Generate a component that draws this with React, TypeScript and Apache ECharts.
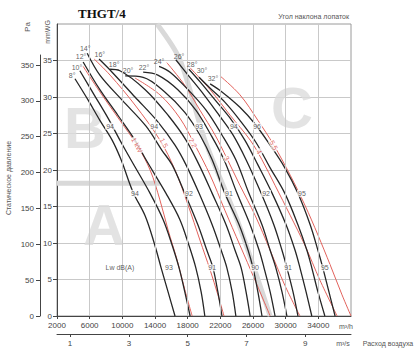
import React, { useEffect, useRef } from 'react';
import * as echarts from 'echarts';

const FONT = '"Liberation Sans", Arial, sans-serif';

// axis values (m3/h, mmWG, Pa, m3/s)
const flowTicks = [2000, 6000, 10000, 14000, 18000, 22000, 26000, 30000, 34000];
const flowGridLines = [6000, 10000, 14000, 18000, 22000, 26000, 30000, 34000];
const flowPerSecTicks = [1, 3, 5, 7, 9];
const mmwgTicks = [0, 5, 10, 15, 20, 25, 30, 35];
const paTicks = [0, 50, 100, 150, 200, 250, 300, 350];

// blade angle curves: [m3/h, mmWG]
const angleNames = ['8°', '10°', '12°', '14°', '16°', '18°', '20°', '22°', '24°', '26°', '28°', '30°', '32°'];
const curve8 = [[4200, 32.5], [5800, 29.6], [7250, 26.8], [8750, 24.1], [9850, 21.4], [11300, 17.0], [12800, 13.7], [13900, 10.0], [14750, 6.6], [15600, 3.3], [16450, 0]];
const curve10 = [[4800, 33.6], [6550, 30.3], [8250, 27.1], [9700, 24.1], [11050, 21.4], [13400, 16.8], [15000, 13.2], [16100, 9.7], [16950, 6.6], [17650, 3.3], [18300, 0]];
const curve12 = [[5200, 34.8], [7250, 31.0], [9450, 27.5], [11550, 24.1], [12900, 21.4], [15350, 16.8], [17050, 13.2], [18150, 9.7], [19000, 6.6], [19650, 3.3], [20100, 0]];
const curve14 = [[5700, 36.0], [7250, 33.0], [9950, 29.6], [12900, 26.0], [14850, 22.7], [16100, 20.7], [17650, 16.8], [19250, 12.5], [20350, 9.0], [21100, 6.6], [21700, 3.3], [22200, 0]];
const curve16 = [[7150, 35.2], [8750, 33.4], [11550, 30.0], [14350, 26.6], [16450, 23.4], [17800, 20.7], [19400, 16.8], [21000, 12.5], [22100, 9.0], [22800, 6.6], [23450, 3.3], [23900, 0]];
const curve18 = [[8500, 33.8], [9700, 33.6], [12800, 31.0], [15600, 27.5], [17800, 24.1], [19400, 20.7], [21000, 16.8], [22700, 12.5], [23800, 9.0], [24550, 6.6], [25150, 3.3], [25650, 0]];
const curve20 = [[10350, 32.9], [12550, 32.7], [15200, 30.7], [17650, 27.9], [19500, 24.8], [21000, 21.4], [22550, 16.8], [24300, 12.5], [25400, 9.0], [26000, 6.6], [26600, 3.3], [27100, 0]];
const curve22 = [[12550, 33.4], [14350, 33.0], [16800, 31.0], [19000, 28.2], [20850, 24.8], [22450, 21.4], [24050, 16.8], [25650, 12.5], [26750, 9.0], [27350, 6.6], [28100, 3.3], [28700, 0]];
const curve24 = [[14500, 34.2], [15850, 33.4], [18050, 31.0], [20250, 28.2], [22200, 24.8], [23900, 21.4], [25500, 16.8], [27100, 12.5], [28100, 9.0], [28800, 6.6], [29550, 3.3], [30150, 0]];
const curve26 = [[16550, 35.1], [18050, 33.0], [20000, 30.3], [21850, 27.5], [23550, 24.8], [25150, 21.4], [27000, 16.8], [28550, 12.5], [29550, 9.0], [30150, 6.6], [30900, 3.3], [31500, 0]];
const curve28 = [[18150, 33.8], [19500, 32.1], [21350, 29.6], [23200, 27.1], [25000, 24.1], [26600, 20.7], [28350, 16.8], [30050, 12.5], [31150, 9.0], [31750, 6.6], [32500, 3.3], [33200, 0]];
const curve30 = [[19400, 32.7], [20750, 31.2], [22550, 29.3], [24400, 26.8], [26350, 23.8], [28100, 20.3], [29900, 16.8], [31500, 12.5], [32600, 9.0], [33200, 6.6], [33950, 3.3], [34800, 0]];
const curve32 = [[20750, 31.8], [22200, 30.7], [24400, 28.6], [26250, 26.3], [28100, 23.4], [29900, 20.3], [31500, 16.8], [33000, 12.5], [33950, 9.0], [34550, 6.6], [35300, 3.3], [36050, 0]];
const angleCurves = [curve8, curve10, curve12, curve14, curve16, curve18, curve20, curve22, curve24, curve26, curve28, curve30, curve32];
// angle label anchor points
const angleLabelPos = [[3850, 32.9], [4450, 34.1], [4950, 35.5], [5450, 36.7], [7250, 35.8], [9000, 34.4], [10700, 33.6], [12650, 34.1], [14500, 34.9], [16950, 35.6], [18550, 34.4], [19750, 33.6], [21100, 32.6]];

// motor power lines (kW)
const powerNames = ['1 kW', '1.5', '2.2', '3', '4', '5.5'];
const power1 = [[5200, 34.2], [7250, 30.7], [9700, 26.8], [11800, 23.4], [13400, 20.0], [14600, 15.9], [15600, 11.8], [16700, 7.7], [17650, 3.6], [18550, 0]];
const power15 = [[6550, 35.2], [8500, 33.0], [11550, 28.9], [14600, 24.1], [16450, 20.0], [18050, 15.2], [19500, 10.4], [20750, 6.3], [21700, 2.9], [22450, 0]];
const power22 = [[11550, 32.6], [14600, 30.3], [17050, 27.1], [18900, 23.4], [20750, 19.3], [22550, 14.5], [24400, 9.7], [26250, 4.9], [28100, 0]];
const power3 = [[15450, 34.7], [17650, 31.6], [19500, 28.2], [21350, 24.8], [22800, 21.6], [24400, 17.9], [26250, 13.8], [28100, 9.0], [29900, 4.2], [31750, 0]];
const power4 = [[18300, 34.0], [20750, 31.0], [23200, 27.5], [25650, 24.1], [27100, 21.4], [28700, 17.9], [30550, 13.8], [32350, 9.7], [34200, 4.9], [36300, 0]];
const power55 = [[21950, 32.9], [24400, 30.3], [26600, 26.8], [28550, 23.4], [30550, 19.3], [32350, 15.2], [33950, 11.1], [35450, 7.0], [36900, 2.9], [38000, 0]];
const powerCurves = [power1, power15, power22, power3, power4, power55];
const powerLabelPos = [[11800, 23.4], [15100, 23.7], [18650, 23.7], [22800, 21.6], [26750, 22.5], [28550, 23.4]];

// sound power labels Lw dB(A)
const soundValues = ['94', '94', '93', '94', '96', '94', '92', '91', '92', '95', '93', '91', '90', '91', '95'];
const soundPos = [
  [8500, 26.0], [13900, 26.0], [19400, 26.0], [23650, 26.0], [26500, 26.0],
  [11550, 16.8], [18150, 16.8], [23050, 16.8], [27600, 16.8], [32000, 16.8],
  [15700, 6.6], [21000, 6.6], [26250, 6.6], [30300, 6.6], [34800, 6.6],
];
const lwLabelPos = [9700, 6.6];

// zone boundaries and zone letters
const zoneDiagonal = [[14250, 40], [17050, 35.1], [20100, 24.1], [24050, 13.2], [28100, 0]];
const zoneHorizontal = [[2000, 18.2], [14600, 18.2]];
const zoneLetters = ['B', 'A', 'C'];
const zoneLetterPos = [[5430, 25.8], [7750, 12.5], [30780, 28.5]];

export default function App() {
  const ref = useRef<HTMLDivElement>(null);
  useEffect(() => {
    if (!ref.current) return;
    const chart = echarts.init(ref.current, null, { renderer: 'svg' });
    const txt = { fontFamily: FONT, color: '#444', fontSize: 8 };
    const series: any[] = [];
    // vertical grid lines
    series.push({
      type: 'line', xAxisIndex: 0, yAxisIndex: 0, data: [[2000, 0]], symbol: 'none', silent: true, z: 0,
      lineStyle: { opacity: 0 },
      markLine: {
        silent: true, symbol: 'none', label: { show: false },
        lineStyle: { color: '#c9c9c9', type: 'solid', width: 1 },
        data: flowGridLines.map((q) => ({ xAxis: q })),
      },
    });
    // zone boundaries
    [zoneDiagonal, zoneHorizontal].forEach((d) => {
      series.push({
        type: 'line', data: d, symbol: 'none', smooth: 0.3, silent: true, z: 1,
        lineStyle: { color: '#d9d9d9', width: 5 },
      });
    });
    // zone letters
    series.push({
      type: 'scatter', data: zoneLetterPos.map((p, i) => ({ value: p, name: zoneLetters[i] })), symbolSize: 0, z: 1, silent: true,
      label: { show: true, position: 'inside', formatter: '{b}', fontFamily: FONT, fontWeight: 'bold', fontSize: 58, color: '#dcdcdc' },
    });
    angleCurves.forEach((d, i) => {
      series.push({
        type: 'line', name: angleNames[i], data: d, symbol: 'none', smooth: 0.35, z: 3,
        lineStyle: { color: '#262626', width: 1.3 },
      });
    });
    powerCurves.forEach((d, i) => {
      series.push({
        type: 'line', name: powerNames[i], data: d, symbol: 'none', smooth: 0.35, z: 2,
        lineStyle: { color: '#e2625c', width: 1 },
      });
    });
    series.push({
      type: 'scatter', data: angleLabelPos.map((p, i) => ({ value: p, name: angleNames[i] })), symbolSize: 0, z: 5,
      label: { show: true, position: 'inside', formatter: '{b}', ...txt, fontSize: 7, color: '#333' },
    });
    series.push({
      type: 'scatter', data: soundPos.map((p, i) => ({ value: p, name: soundValues[i] })), symbolSize: 0, z: 5,
      label: { show: true, position: 'inside', formatter: '{b}', ...txt, fontSize: 7, color: '#333', backgroundColor: '#fff', padding: [0, 1] },
    });
    series.push({
      type: 'scatter', data: powerLabelPos.map((p, i) => ({ value: p, name: powerNames[i] })), symbolSize: 0, z: 5,
      label: { show: true, position: 'inside', rotate: -62, formatter: '{b}', ...txt, fontSize: 7, color: '#d8453f', backgroundColor: '#fff', padding: [0, 1] },
    });
    series.push({
      type: 'scatter', data: [{ value: lwLabelPos, name: 'Lw dB(A)' }], symbolSize: 0, z: 5,
      label: { show: true, position: 'inside', formatter: '{b}', ...txt, fontSize: 7, color: '#333' },
    });

    chart.setOption({
      animation: false,
      backgroundColor: '#ffffff',
      grid: [
        { left: 57, top: 24, right: 69, bottom: 35, show: true, borderColor: '#9a9a9a', borderWidth: 1 },
        { left: 40, top: 55, width: 10, bottom: 35 },
      ],
      xAxis: [
        {
          type: 'value', gridIndex: 0, min: 2000, max: 38000, position: 'bottom',
          axisLine: { show: true, onZero: false, lineStyle: { color: '#444' } },
          axisTick: { show: true, customValues: flowTicks, length: 3, lineStyle: { color: '#444' } },
          axisLabel: { customValues: flowTicks, formatter: (v: number) => String(v), ...txt, margin: 5 },
          splitLine: { show: false },
        },
        {
          type: 'value', gridIndex: 0, min: 2000, max: 38000, position: 'bottom', offset: 18,
          axisLine: { show: true, onZero: false, lineStyle: { color: '#444' } },
          axisTick: { show: true, customValues: flowPerSecTicks.map((v) => v * 3600), length: 3, lineStyle: { color: '#444' } },
          axisLabel: { customValues: flowPerSecTicks.map((v) => v * 3600), formatter: (v: number) => String(Math.round(v / 3600)), ...txt, margin: 5 },
          splitLine: { show: false },
        },
        { type: 'value', gridIndex: 1, show: false, min: 0, max: 1 },
      ],
      yAxis: [
        {
          type: 'value', gridIndex: 0, min: 0, max: 40, interval: 5,
          axisLine: { show: true, lineStyle: { color: '#444' } },
          axisTick: { show: true, customValues: mmwgTicks, length: 4, lineStyle: { color: '#444' } },
          axisLabel: { customValues: mmwgTicks, formatter: (v: number) => String(v), ...txt, margin: 5 },
          splitLine: { show: true, lineStyle: { color: '#c9c9c9', width: 1 } },
        },
        {
          type: 'value', gridIndex: 1, min: 0, max: 364, position: 'left',
          axisLine: { show: true, lineStyle: { color: '#444' } },
          axisTick: { show: true, customValues: paTicks, length: 4, lineStyle: { color: '#444' } },
          axisLabel: { customValues: paTicks, formatter: (v: number) => String(v), ...txt, margin: 6 },
          splitLine: { show: false },
        },
      ],
      graphic: [
        { type: 'text', left: 78, top: 7, style: { text: 'THGT/4', font: 'bold 13px "Liberation Serif", serif', fill: '#111' } },
        { type: 'text', x: 349, y: 16, style: { text: 'Угол наклона лопаток', fontFamily: FONT, fontSize: 7, fill: '#555', align: 'right', verticalAlign: 'middle' } },
        { type: 'text', x: 27, y: 27, rotation: Math.PI / 2, style: { text: 'Pa', fontFamily: FONT, fontSize: 8, fill: '#555', align: 'center', verticalAlign: 'middle' } },
        { type: 'text', x: 47, y: 32, rotation: Math.PI / 2, style: { text: 'mmWG', fontFamily: FONT, fontSize: 7, fill: '#555', align: 'center', verticalAlign: 'middle' } },
        { type: 'text', x: 8, y: 178, rotation: Math.PI / 2, style: { text: 'Статическое давление', fontFamily: FONT, fontSize: 7, fill: '#555', align: 'center', verticalAlign: 'middle' } },
        { type: 'text', x: 346, y: 326, style: { text: 'm³/h', fontFamily: FONT, fontSize: 7, fill: '#555', align: 'center', verticalAlign: 'middle' } },
        { type: 'text', x: 343, y: 343, style: { text: 'm³/s', fontFamily: FONT, fontSize: 7, fill: '#555', align: 'center', verticalAlign: 'middle' } },
        { type: 'text', x: 388, y: 343, style: { text: 'Расход воздуха', fontFamily: FONT, fontSize: 7, fill: '#555', align: 'center', verticalAlign: 'middle' } },
      ],
      series,
    });
    return () => chart.dispose();
  }, []);
  return <div ref={ref} style={{ position: 'fixed', left: 0, top: 0, width: 420, height: 351 }} />;
}
